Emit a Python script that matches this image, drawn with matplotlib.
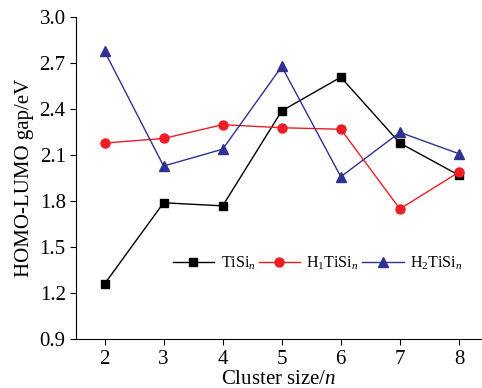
import matplotlib
matplotlib.use('Agg')
import matplotlib.pyplot as plt

plt.rcParams['font.family'] = ['Liberation Serif', 'DejaVu Serif']
plt.rcParams['mathtext.fontset'] = 'custom'
plt.rcParams['mathtext.rm'] = 'Liberation Serif'
plt.rcParams['mathtext.it'] = 'Liberation Serif:italic'

sizes = [2, 3, 4, 5, 6, 7, 8]
tisi = [1.26, 1.79, 1.77, 2.39, 2.61, 2.18, 1.97]
h1tisi = [2.18, 2.21, 2.30, 2.28, 2.27, 1.75, 1.99]
h2tisi = [2.78, 2.03, 2.14, 2.68, 1.96, 2.25, 2.11]
yticks = [0.9, 1.2, 1.5, 1.8, 2.1, 2.4, 2.7, 3.0]

fig = plt.figure(figsize=(4.82, 3.88), dpi=100)
ax = fig.add_axes([0.158, 0.126, 0.842, 0.829])

ax.plot(sizes, tisi, color='black', lw=1, marker='s', ms=6, label=r'TiSi$_{\mathit{n}}$')
ax.plot(sizes, h1tisi, color='#ee1c24', lw=1, marker='o', ms=6.5, label=r'H$_1$TiSi$_{\mathit{n}}$')
ax.plot(sizes, h2tisi, color='#2e3192', lw=1, marker='^', ms=7.5, label=r'H$_2$TiSi$_{\mathit{n}}$')

ax.set_xlim(1.52, 8.39)
ax.set_ylim(0.9, 3.0)
ax.set_xticks(sizes)
ax.set_yticks(yticks)
ax.set_yticklabels(['%.1f' % v for v in yticks])
ax.spines['top'].set_visible(False)
ax.spines['right'].set_visible(False)
ax.tick_params(direction='out', length=4, labelsize=15)

ax.set_xlabel(r'Cluster size/$\mathit{n}$', fontsize=15, labelpad=1)
ax.set_ylabel('HOMO-LUMO gap/eV', fontsize=15, labelpad=4)

ax.legend(loc='center', bbox_to_anchor=(0.595, 0.235), ncol=3, frameon=False,
          fontsize=11.5, handlelength=2.6, columnspacing=0.2, handletextpad=0.4)

fig.savefig('out.png', dpi=100)
